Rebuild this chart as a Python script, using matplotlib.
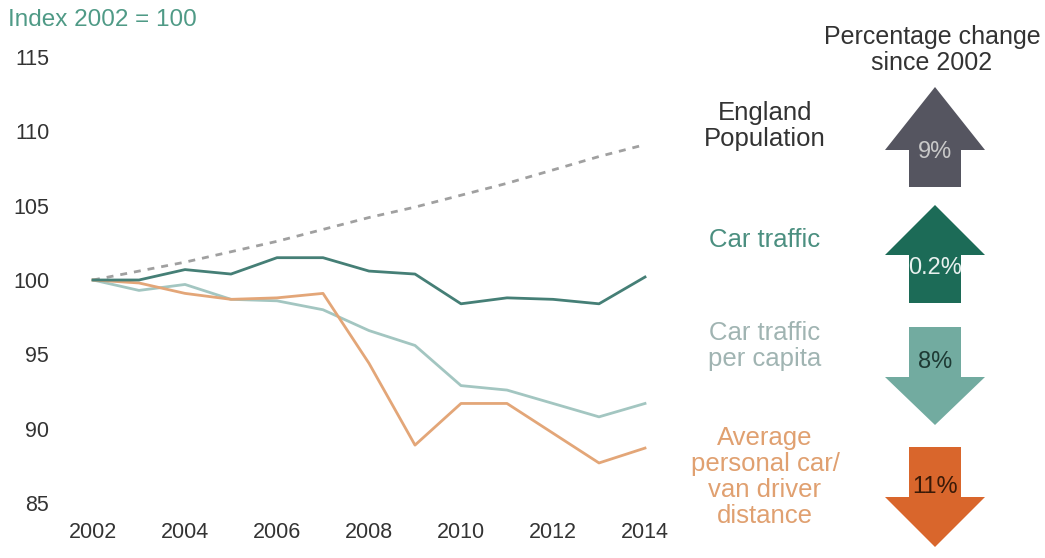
import matplotlib
matplotlib.use("Agg")
import matplotlib.pyplot as plt
from matplotlib.patches import Polygon

plt.rcParams['font.family'] = ['Liberation Sans', 'DejaVu Sans']

years = [2002, 2003, 2004, 2005, 2006, 2007, 2008, 2009, 2010, 2011, 2012, 2013, 2014]
population = [100, 100.6, 101.2, 101.9, 102.6, 103.4, 104.2, 104.9, 105.7, 106.5, 107.4, 108.3, 109.1]
car_traffic = [100, 100.0, 100.7, 100.4, 101.5, 101.5, 100.6, 100.4, 98.4, 98.8, 98.7, 98.4, 100.2]
per_capita = [100, 99.3, 99.7, 98.7, 98.6, 98.0, 96.6, 95.6, 92.9, 92.6, 91.7, 90.8, 91.7]
avg_distance = [100, 99.8, 99.1, 98.7, 98.8, 99.1, 94.4, 88.9, 91.7, 91.7, 89.7, 87.7, 88.7]

yticks = [85, 90, 95, 100, 105, 110, 115]
xticks = [2002, 2004, 2006, 2008, 2010, 2012, 2014]

series_labels = ["England\nPopulation", "Car traffic", "Car traffic\nper capita",
                 "Average\npersonal car/\nvan driver\ndistance"]
pct_changes = [9, 0.2, -8, -11]
pct_texts = ["9%", "0.2%", "8%", "11%"]

C_POP = "#a0a0a0"
C_CAR = "#457f76"
C_CAP = "#a3c6c1"
C_AVG = "#e3a678"

W, H = 1045, 558
fig = plt.figure(figsize=(W / 100, H / 100), dpi=100)

ax = fig.add_axes([70 / W, 1 - 518 / H, 598 / W, 476 / H])
ax.plot(years, population, color=C_POP, lw=2, ls=(0, (2.5, 2.5)))
ax.plot(years, per_capita, color=C_CAP, lw=2)
ax.plot(years, avg_distance, color=C_AVG, lw=2)
ax.plot(years, car_traffic, color=C_CAR, lw=2)
ax.set_xlim(2001.5, 2014.5)
ax.set_ylim(84, 116)
ax.set_xticks(xticks)
ax.set_yticks(yticks)
ax.set_xticklabels([str(x) for x in xticks])
ax.tick_params(axis='both', length=0, labelsize=15.5, colors="#333333")
ax.tick_params(axis='y', pad=15)
ax.tick_params(axis='x', pad=3)
for s in ax.spines.values():
    s.set_visible(False)

fig.text(8 / W, 1 - 20 / H, "Index 2002 = 100", color="#4f9a86", fontsize=17.5,
         ha='left', va='center')

# overlay in pixel coordinates
ov = fig.add_axes([0, 0, 1, 1])
ov.set_xlim(0, W)
ov.set_ylim(H, 0)
ov.axis('off')

ov.text(932, 50, "Percentage change\nsince 2002", ha='center', va='center',
        fontsize=18, color="#333333", linespacing=1.15)

label_colors = ["#333333", "#4b8f80", "#a0b4b2", "#e0a070"]
label_y = [126, 240, 346, 477]
for lab, c, y in zip(series_labels, label_colors, label_y):
    ov.text(765, y, lab, ha='center', va='center', fontsize=18.5, color=c,
            linespacing=1.12)

arrow_colors = ["#555560", "#1c6b57", "#72aba0", "#d9662c"]
arrow_text_colors = ["#c8c8c8", "#e8f0ee", "#1e3a34", "#3a1a08"]
# (tip_y, head_base_y, end_y)
arrow_geom = [(87, 150, 187), (205, 255, 303), (425, 377, 327), (547, 497, 447)]
text_y = [152, 268, 362, 487]
cx = 935
for pct, txt, col, tcol, (tip, base, end), ty in zip(pct_changes, pct_texts, arrow_colors,
                                                     arrow_text_colors, arrow_geom, text_y):
    hw, sw = 50, 26
    pts = [(cx, tip), (cx + hw, base), (cx + sw, base), (cx + sw, end),
           (cx - sw, end), (cx - sw, base), (cx - hw, base)]
    ov.add_patch(Polygon(pts, closed=True, facecolor=col, edgecolor='none'))
    ov.text(cx, ty, txt, ha='center', va='center', fontsize=17, color=tcol)

fig.savefig("out.png", dpi=100, facecolor="white")
